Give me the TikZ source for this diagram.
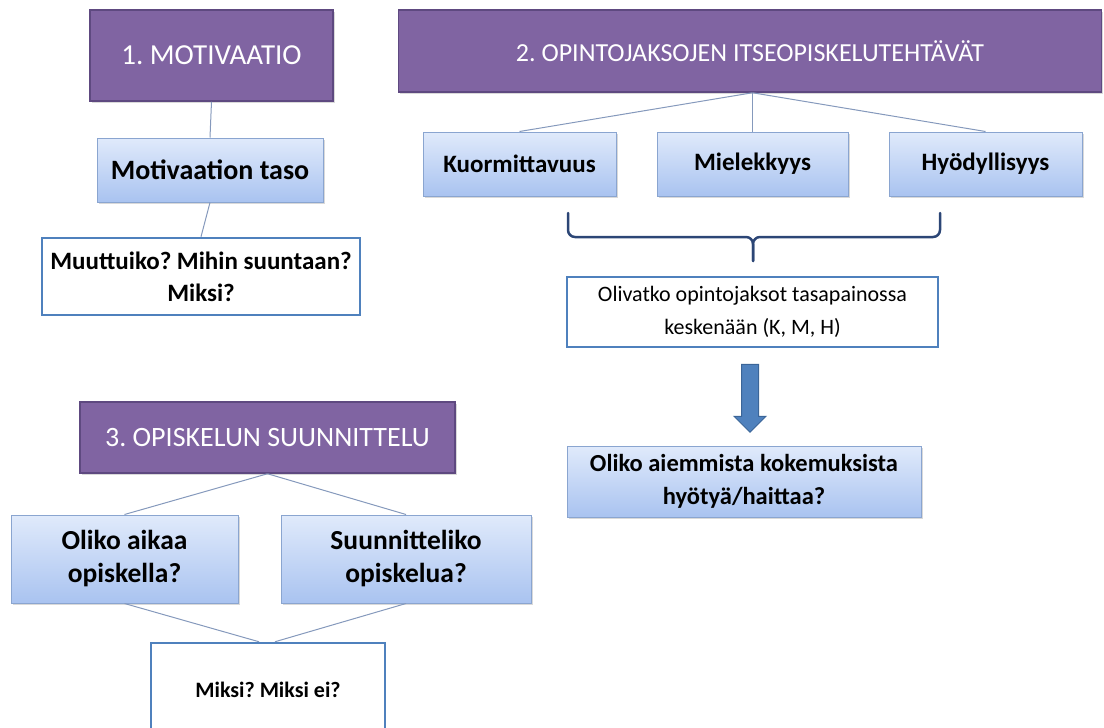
\documentclass[tikz,border=0pt]{standalone}
\usepackage{fontspec}
\setmainfont{Carlito}
\usetikzlibrary{calc, shadows, positioning}
\definecolor{headfill}{HTML}{8064A2}
\definecolor{headline}{HTML}{5E4980}
\definecolor{boxtop}{HTML}{E0EAFB}
\definecolor{boxbot}{HTML}{A9C3F0}
\definecolor{boxline}{HTML}{8AA5D0}
\definecolor{frameline}{HTML}{4F81BD}
\definecolor{linkline}{HTML}{8599BC}
\definecolor{bracec}{HTML}{2C4676}
\definecolor{arrowfill}{HTML}{4F81BD}
\definecolor{arrowline}{HTML}{3B6598}
\frenchspacing

\begin{document}
\begin{tikzpicture}[x=1pt, y=-1pt,
 head/.style={draw=headline, line width=1.5pt, fill=headfill, text=white, inner sep=0pt,
   font=\fontsize{28}{33}\selectfont,
   drop shadow={opacity=0.3, shadow xshift=1.5pt, shadow yshift=-1.5pt}},
 topic/.style={draw=boxline, line width=1pt, top color=boxtop, bottom color=boxbot, inner sep=0pt,
   align=center, font=\bfseries\fontsize{24.5}{33}\selectfont,
   drop shadow={opacity=0.3, shadow xshift=1.5pt, shadow yshift=-2pt}},
 question/.style={draw=frameline, line width=2.5pt, fill=white, inner sep=0pt, align=center,
   font=\bfseries\fontsize{25}{32}\selectfont},
 link/.style={draw=linkline, line width=1pt},
 bracket/.style={draw=bracec, line width=2.5pt, rounded corners=7pt, line cap=round},
 blockarrow/.style={draw=arrowline, line width=1pt, fill=arrowfill, line join=miter}
]
\useasboundingbox (0,0) rectangle (1104,728);
\clip (0,0) rectangle (1104,728);

 %headers:
 \node[head, minimum width=243, minimum height=91, font=\fontsize{29}{33}\selectfont] (mot) at (211.5,55.5) {1. MOTIVAATIO};
 \node[head, minimum width=703, minimum height=82, font=\fontsize{26}{30}\selectfont] (itse) at (750,51) {2. OPINTOJAKSOJEN ITSEOPISKELUTEHT\"AV\"AT};
 \node[head, minimum width=375, minimum height=71] (suun) at (267.5,437.5) {3. OPISKELUN SUUNNITTELU};

 %1. motivaatio
 \node[topic, minimum width=226, minimum height=64, font=\bfseries\fontsize{28}{30}\selectfont] (taso) at (210,170) {Motivaation taso};
 \node[question, minimum width=318, minimum height=77] (muut) at (201,276.5) {Muuttuiko? Mihin suuntaan?\\Miksi?};
 \draw[link] (mot.south) -- (taso.north);
 \draw[link] (taso.south) -- (muut.north);

 %2. itseopiskelutehtavat
 \node[topic, minimum width=193, minimum height=64, font=\bfseries\fontsize{25}{28}\selectfont] (kuor) at (519.5,164) {Kuormittavuus};
 \node[topic, minimum width=191, minimum height=64, font=\bfseries\fontsize{25}{28}\selectfont] (miel) at (752.5,164) {Mielekkyys};
 \node[topic, minimum width=193, minimum height=64, font=\bfseries\fontsize{25}{28}\selectfont] (hyod) at (985.5,164) {Hy\"odyllisyys};
 \coordinate (J1) at (itse.south -| miel.north);
 \draw[link] (J1) -- (kuor.north);
 \draw[link] (J1) -- (miel.north);
 \draw[link] (J1) -- (hyod.north);

 \coordinate (B1) at (568,213);
 \coordinate (B2) at (940,213);
 \coordinate (B3) at (753,261);
 \draw[bracket] (B1) |- ($(B3)+(0,-24)$) -- (B3);
 \draw[bracket] (B2) |- ($(B3)+(0,-24)$) -- (B3);

 \node[question, minimum width=371, minimum height=70, font=\fontsize{22}{33}\selectfont] (oliv) at (752.5,312) {Olivatko opintojaksot tasapainossa\\kesken\"a\"an (K, M, H)};
 \node[topic, minimum width=354, minimum height=71] (aiem) at (744,481.5) {Oliko aiemmista kokemuksista\\hy\"oty\"a/haittaa?};

 \coordinate (A1) at ($(oliv.south)+(-2.5,16)$);
 \coordinate (A2) at ($(A1)+(0,68)$);
 \draw[blockarrow] ($(A1)+(-8.5,0)$) -- ($(A1)+(8.5,0)$) -- ($(A2)+(8.5,-16)$) -- ($(A2)+(16,-16)$)
   -- (A2) -- ($(A2)+(-16,-16)$) -- ($(A2)+(-8.5,-16)$) -- cycle;

 %3. opiskelun suunnittelu
 \node[topic, minimum width=227, minimum height=88, font=\bfseries\fontsize{27.5}{33}\selectfont] (aika) at (124.5,559) {Oliko aikaa\\opiskella?};
 \node[topic, minimum width=250, minimum height=88, font=\bfseries\fontsize{27.5}{33}\selectfont] (suunn) at (406,559) {Suunnitteliko\\opiskelua?};
 \node[question, minimum width=234, minimum height=94, font=\bfseries\fontsize{22}{28}\selectfont] (miksi) at (268,690) {Miksi? Miksi ei?};
 \draw[link] (suun.south) -- (aika.north);
 \draw[link] (suun.south) -- (suunn.north);
 \coordinate (M1) at ($(miksi.north)+(-9,0)$);
 \coordinate (M2) at ($(miksi.north)+(7,0)$);
 \draw[link] (aika.south) -- (M1);
 \draw[link] (suunn.south) -- (M2);
\end{tikzpicture}
\end{document}
